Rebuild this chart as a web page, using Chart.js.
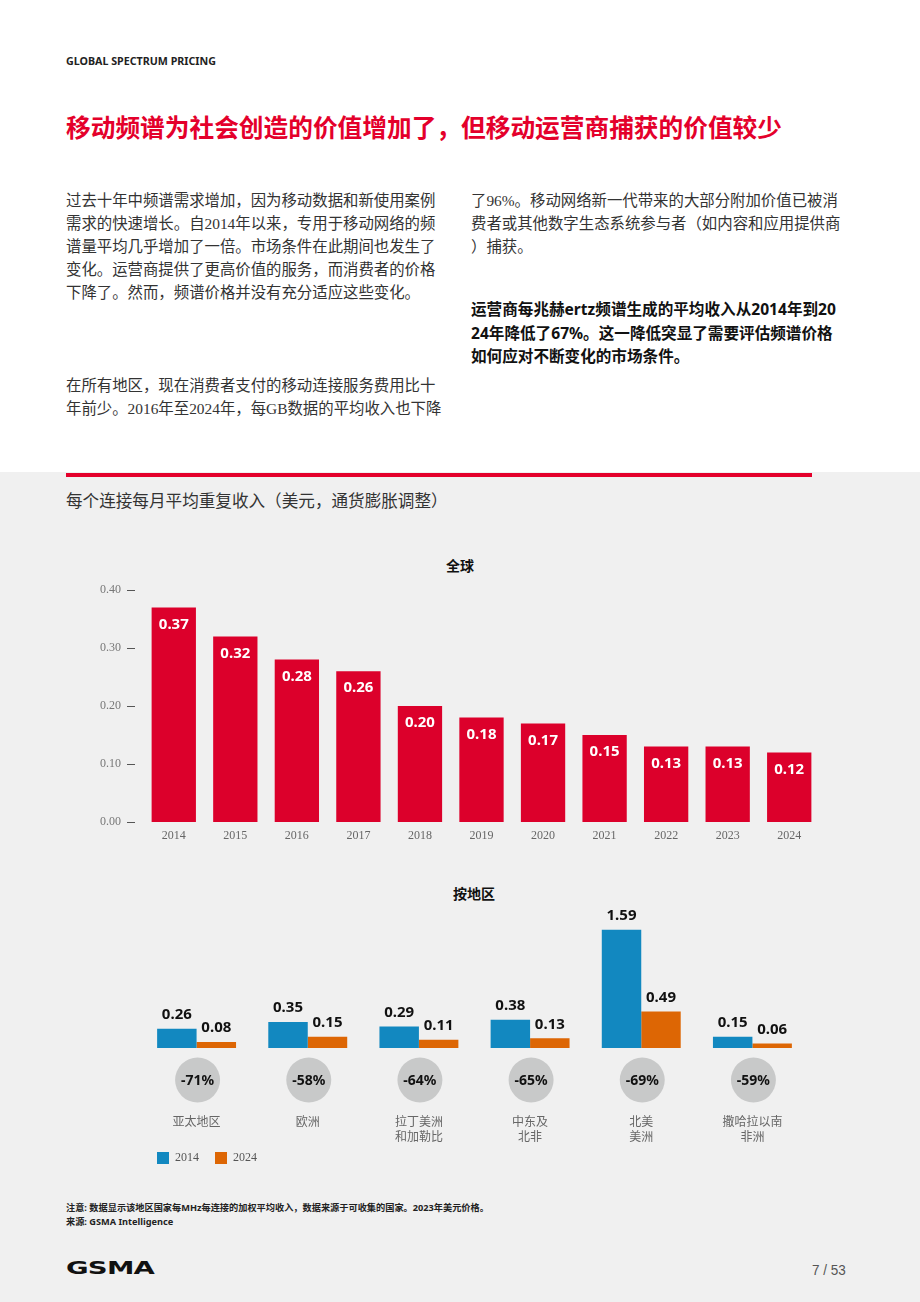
<!DOCTYPE html>
<html><head><meta charset="utf-8">
<script src="https://cdn.jsdelivr.net/npm/chart.js@4.4.1/dist/chart.umd.min.js"></script>
<style>
html,body{margin:0;padding:0}
body{width:920px;height:1302px;position:relative;background:#fff;overflow:hidden;font-family:'Noto Sans CJK SC',sans-serif}
.abs{position:absolute;white-space:nowrap}
#band{position:absolute;left:0;top:472px;width:920px;height:830px;background:#f0f0f0}
#redline{position:absolute;left:66px;top:473px;width:746px;height:4px;background:#e4002b}
.body{font-family:'Liberation Serif','Noto Sans CJK SC',serif;font-size:15.4px;line-height:23px;color:#333}
.bold{font-family:'Noto Sans','Noto Sans CJK SC',sans-serif;font-weight:700;font-size:15.6px;line-height:23.5px;color:#111}
canvas{position:absolute;left:0}
</style></head>
<body>
<div id="band"></div>
<div id="redline"></div>
<div class="abs" style="left:66px;top:54px;font-family:'Noto Sans',sans-serif;font-weight:700;font-size:10.7px;line-height:14px;color:#222">GLOBAL SPECTRUM PRICING</div>
<div class="abs" style="left:66px;top:110px;font-weight:700;font-size:24.7px;line-height:32px;color:#e4002b">移动频谱为社会创造的价值增加了，但移动运营商捕获的价值较少</div>
<div class="abs body" style="left:66px;top:188.5px">过去十年中频谱需求增加，因为移动数据和新使用案例<br>需求的快速增长。自2014年以来，专用于移动网络的频<br>谱量平均几乎增加了一倍。市场条件在此期间也发生了<br>变化。运营商提供了更高价值的服务，而消费者的价格<br>下降了。然而，频谱价格并没有充分适应这些变化。</div>
<div class="abs body" style="left:66px;top:373.5px">在所有地区，现在消费者支付的移动连接服务费用比十<br>年前少。2016年至2024年，每GB数据的平均收入也下降</div>
<div class="abs body" style="left:471px;top:188.5px">了96%。移动网络新一代带来的大部分附加价值已被消<br>费者或其他数字生态系统参与者（如内容和应用提供商<br>）捕获。</div>
<div class="abs bold" style="left:471px;top:298px">运营商每兆赫ertz频谱生成的平均收入从2014年到20<br>24年降低了67%。这一降低突显了需要评估频谱价格<br>如何应对不断变化的市场条件。</div>
<div class="abs" style="left:66px;top:489px;font-size:16.6px;line-height:22px;color:#333">每个连接每月平均重复收入（美元，通货膨胀调整）</div>
<div class="abs" style="left:360px;width:200px;text-align:center;top:555px;font-weight:700;font-size:14px;line-height:20px;color:#111">全球</div>
<div class="abs" style="left:374px;width:200px;text-align:center;top:883px;font-weight:700;font-size:14px;line-height:20px;color:#111">按地区</div>

<canvas id="c1" width="920" height="320" style="top:540px"></canvas>
<canvas id="c2" width="920" height="316" style="top:870px"></canvas>

<div class="abs" style="left:66px;top:1201px;font-family:'Noto Sans','Noto Sans CJK SC',sans-serif;font-weight:700;font-size:9.2px;line-height:14px;color:#222">注意: 数据显示该地区国家每MHz每连接的加权平均收入，数据来源于可收集的国家。2023年美元价格。<br>来源: GSMA Intelligence</div>
<div class="abs" style="left:66px;top:1257px;font-family:'DejaVu Sans',sans-serif;font-weight:700;font-size:18px;line-height:22px;color:#111;transform:scaleX(1.53);transform-origin:0 0;letter-spacing:-0.5px">GSMA</div>
<div class="abs" style="left:812px;top:1261px;font-family:'Liberation Sans',sans-serif;font-size:15px;line-height:18px;color:#555;transform:scaleX(0.9);transform-origin:0 0">7 / 53</div>

<script>
// ---- data ----
const years = ['2014','2015','2016','2017','2018','2019','2020','2021','2022','2023','2024'];
const globalArpu = [0.37,0.32,0.28,0.26,0.20,0.18,0.17,0.15,0.13,0.13,0.12];
const yTicks = [0.00,0.10,0.20,0.30,0.40];
const regions = [['亚太地区'],['欧洲'],['拉丁美洲','和加勒比'],['中东及','北非'],['北美','美洲'],['撒哈拉以南','非洲']];
const arpu2014 = [0.26,0.35,0.29,0.38,1.59,0.15];
const arpu2024 = [0.08,0.15,0.11,0.13,0.49,0.06];
const changePct = [-71,-58,-64,-65,-69,-59];
const seriesNames = ['2014','2024'];

const RED='#dc002b', BLUE='#1288c0', ORANGE='#dd6604';
const serif = "'Liberation Serif','Noto Sans CJK SC',serif";
Chart.defaults.font.family = "'Noto Sans CJK SC',sans-serif";

const c1Plugin = {
  id:'c1p',
  afterDatasetsDraw(chart){
    const ctx=chart.ctx, y=chart.scales.y, left=chart.chartArea.left;
    ctx.save();
    ctx.strokeStyle='#555'; ctx.lineWidth=1;
    yTicks.forEach(v=>{const p=Math.round(y.getPixelForValue(v))+0.5;ctx.beginPath();ctx.moveTo(left-16,p);ctx.lineTo(left-8,p);ctx.stroke();});
    ctx.fillStyle='#fff'; ctx.font="700 15px 'Noto Sans',sans-serif"; ctx.textAlign='center'; ctx.textBaseline='middle';
    chart.getDatasetMeta(0).data.forEach((b,i)=>{ctx.fillText(globalArpu[i].toFixed(2), b.x, b.y+17);});
    ctx.restore();
  }
};

new Chart(document.getElementById('c1'),{
  type:'bar',
  data:{labels:years,datasets:[{data:globalArpu,backgroundColor:RED,borderWidth:0,categoryPercentage:1,barPercentage:0.72}]},
  options:{
    responsive:false,animation:false,
    layout:{padding:{top:50,right:100,left:0,bottom:0}},
    plugins:{legend:{display:false},tooltip:{enabled:false}},
    scales:{
      x:{grid:{display:false,drawTicks:false},border:{display:false},
         ticks:{padding:7,color:'#666',font:{family:serif,size:12}},
         afterFit(s){s.height=38;}},
      y:{min:0,max:0.4,grid:{display:false,drawTicks:false},border:{display:false},
         afterBuildTicks(s){s.ticks=yTicks.map(v=>({value:v}));},
         ticks:{padding:22,color:'#777',font:{family:serif,size:12},callback:v=>Number(v).toFixed(2)},
         afterFit(s){s.width=143;}}
    }
  },
  plugins:[c1Plugin]
});

const c2Plugin = {
  id:'c2p',
  afterLayout(chart){
    // lift the legend up so it sits just below the two-line region labels
    const lg=chart.legend; if(lg){lg.top-=12; lg.bottom-=12;}
  },
  afterDatasetsDraw(chart){
    const ctx=chart.ctx, x=chart.scales.x, base=chart.chartArea.bottom;
    ctx.save();
    ctx.fillStyle='#111'; ctx.font="700 15px 'Noto Sans',sans-serif"; ctx.textAlign='center'; ctx.textBaseline='middle';
    [arpu2014,arpu2024].forEach((arr,d)=>{
      chart.getDatasetMeta(d).data.forEach((b,i)=>{ctx.fillText(arr[i].toFixed(2), b.x, b.y-14);});
    });
    regions.forEach((r,i)=>{
      const cx=x.getPixelForTick(i)+1, cy=base+32;
      ctx.fillStyle='#c8c9c9';
      ctx.beginPath();ctx.ellipse(cx,cy,22.5,22.5,0,0,Math.PI*2);ctx.fill();
      ctx.fillStyle='#111'; ctx.font="700 14px 'Noto Sans',sans-serif";
      ctx.fillText(changePct[i]+'%', cx, cy+1);
    });
    ctx.restore();
  }
};

new Chart(document.getElementById('c2'),{
  type:'bar',
  data:{labels:regions,datasets:[
    {label:seriesNames[0],data:arpu2014,backgroundColor:BLUE,borderWidth:0,categoryPercentage:0.71,barPercentage:1},
    {label:seriesNames[1],data:arpu2024,backgroundColor:ORANGE,borderWidth:0,categoryPercentage:0.71,barPercentage:1}
  ]},
  options:{
    responsive:false,animation:false,
    layout:{padding:{top:44,right:112,left:141,bottom:0}},
    plugins:{
      tooltip:{enabled:false},
      legend:{position:'bottom',align:'start',
        labels:{boxWidth:12,boxHeight:12,padding:16,color:'#555',font:{family:serif,size:12}}}
    },
    scales:{
      x:{grid:{display:false,drawTicks:false},border:{display:false},
         ticks:{padding:66,color:'#666',font:{size:12,lineHeight:1.25}},
         afterFit(s){s.height=100;}},
      y:{display:false,min:0,max:1.8}
    }
  },
  plugins:[c2Plugin]
});
</script>
</body></html>
